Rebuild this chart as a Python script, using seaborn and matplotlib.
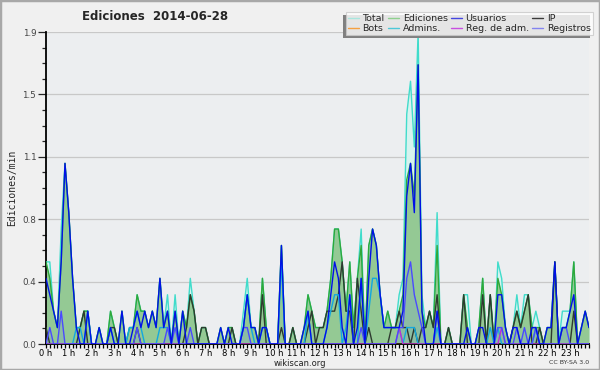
import numpy as np
import pandas as pd
import seaborn as sns
import matplotlib.pyplot as plt
from matplotlib.lines import Line2D
from matplotlib.patches import Rectangle
from matplotlib.transforms import IdentityTransform

# 10-minute samples, edits per minute, one row of six values per hour
ediciones = [
    0.5, 0.4, 0.2, 0.1, 0.5, 1.1,   # 0 h
    0.8, 0.4, 0.1, 0.1, 0.2, 0.2,   # 1 h
    0.0, 0.0, 0.1, 0.0, 0.0, 0.2,   # 2 h
    0.1, 0.0, 0.2, 0.0, 0.1, 0.1,   # 3 h
    0.3, 0.2, 0.2, 0.1, 0.2, 0.1,   # 4 h
    0.4, 0.1, 0.2, 0.0, 0.2, 0.0,   # 5 h
    0.2, 0.1, 0.3, 0.2, 0.0, 0.1,   # 6 h
    0.1, 0.0, 0.0, 0.0, 0.1, 0.0,   # 7 h
    0.1, 0.1, 0.0, 0.0, 0.1, 0.3,   # 8 h
    0.1, 0.1, 0.0, 0.4, 0.1, 0.0,   # 9 h
    0.0, 0.0, 0.6, 0.0, 0.0, 0.1,   # 10 h
    0.0, 0.0, 0.1, 0.3, 0.2, 0.1,   # 11 h
    0.1, 0.1, 0.2, 0.4, 0.7, 0.7,   # 12 h
    0.5, 0.2, 0.5, 0.1, 0.4, 0.6,   # 13 h
    0.0, 0.6, 0.7, 0.6, 0.3, 0.1,   # 14 h
    0.2, 0.1, 0.1, 0.2, 0.3, 1.0,   # 15 h
    1.1, 0.9, 1.7, 0.2, 0.1, 0.2,   # 16 h
    0.1, 0.6, 0.0, 0.0, 0.1, 0.0,   # 17 h
    0.0, 0.0, 0.3, 0.1, 0.0, 0.0,   # 18 h
    0.1, 0.4, 0.0, 0.3, 0.0, 0.4,   # 19 h
    0.3, 0.1, 0.0, 0.1, 0.2, 0.1,   # 20 h
    0.2, 0.3, 0.1, 0.1, 0.1, 0.0,   # 21 h
    0.1, 0.1, 0.5, 0.0, 0.1, 0.1,   # 22 h
    0.2, 0.5, 0.0, 0.1, 0.2, 0.1,   # 23 h
]
total = [
    0.5, 0.5, 0.2, 0.1, 0.7, 1.1,
    0.8, 0.4, 0.1, 0.1, 0.2, 0.2,
    0.0, 0.0, 0.1, 0.0, 0.0, 0.2,
    0.1, 0.0, 0.2, 0.0, 0.1, 0.1,
    0.3, 0.2, 0.2, 0.1, 0.2, 0.1,
    0.4, 0.1, 0.3, 0.0, 0.3, 0.0,
    0.2, 0.1, 0.4, 0.2, 0.0, 0.1,
    0.1, 0.0, 0.0, 0.0, 0.1, 0.0,
    0.1, 0.1, 0.0, 0.0, 0.2, 0.4,
    0.1, 0.1, 0.0, 0.4, 0.1, 0.0,
    0.0, 0.0, 0.6, 0.0, 0.0, 0.1,
    0.0, 0.0, 0.1, 0.3, 0.2, 0.1,
    0.1, 0.1, 0.2, 0.4, 0.7, 0.7,
    0.5, 0.2, 0.5, 0.1, 0.4, 0.7,
    0.0, 0.6, 0.7, 0.6, 0.3, 0.1,
    0.2, 0.1, 0.1, 0.3, 0.4, 1.4,
    1.6, 1.2, 1.9, 0.3, 0.1, 0.2,
    0.1, 0.8, 0.0, 0.0, 0.1, 0.0,
    0.0, 0.0, 0.3, 0.3, 0.0, 0.0,
    0.1, 0.4, 0.0, 0.3, 0.0, 0.5,
    0.4, 0.1, 0.0, 0.1, 0.3, 0.1,
    0.3, 0.3, 0.1, 0.2, 0.1, 0.0,
    0.1, 0.1, 0.5, 0.0, 0.2, 0.2,
    0.2, 0.5, 0.0, 0.1, 0.2, 0.1,
]
usuarios = [
    0.4, 0.3, 0.2, 0.1, 0.5, 1.1,
    0.8, 0.4, 0.1, 0.0, 0.0, 0.2,
    0.0, 0.0, 0.1, 0.0, 0.0, 0.1,
    0.0, 0.0, 0.2, 0.0, 0.0, 0.1,
    0.2, 0.1, 0.2, 0.1, 0.2, 0.1,
    0.4, 0.1, 0.2, 0.0, 0.2, 0.0,
    0.2, 0.0, 0.0, 0.0, 0.0, 0.0,
    0.0, 0.0, 0.0, 0.0, 0.1, 0.0,
    0.1, 0.0, 0.0, 0.0, 0.1, 0.3,
    0.1, 0.1, 0.0, 0.1, 0.1, 0.0,
    0.0, 0.0, 0.6, 0.0, 0.0, 0.0,
    0.0, 0.0, 0.1, 0.2, 0.0, 0.0,
    0.0, 0.0, 0.1, 0.3, 0.5, 0.4,
    0.1, 0.0, 0.3, 0.0, 0.1, 0.4,
    0.0, 0.4, 0.7, 0.6, 0.3, 0.1,
    0.1, 0.1, 0.1, 0.1, 0.2, 0.9,
    1.1, 0.8, 1.7, 0.2, 0.0, 0.0,
    0.0, 0.2, 0.0, 0.0, 0.0, 0.0,
    0.0, 0.0, 0.0, 0.1, 0.0, 0.0,
    0.1, 0.1, 0.0, 0.0, 0.0, 0.3,
    0.3, 0.1, 0.0, 0.1, 0.1, 0.0,
    0.0, 0.0, 0.1, 0.1, 0.0, 0.0,
    0.1, 0.1, 0.5, 0.0, 0.1, 0.1,
    0.2, 0.3, 0.0, 0.1, 0.2, 0.1,
]
ip = [
    0.1, 0.0, 0.0, 0.0, 0.0, 0.0,
    0.0, 0.0, 0.0, 0.1, 0.2, 0.0,
    0.0, 0.0, 0.0, 0.0, 0.0, 0.1,
    0.1, 0.0, 0.0, 0.0, 0.0, 0.0,
    0.1, 0.0, 0.0, 0.0, 0.0, 0.0,
    0.0, 0.0, 0.0, 0.0, 0.0, 0.0,
    0.0, 0.1, 0.3, 0.2, 0.0, 0.1,
    0.1, 0.0, 0.0, 0.0, 0.0, 0.0,
    0.0, 0.1, 0.0, 0.0, 0.0, 0.0,
    0.0, 0.0, 0.0, 0.3, 0.0, 0.0,
    0.0, 0.0, 0.1, 0.0, 0.0, 0.1,
    0.0, 0.0, 0.0, 0.1, 0.2, 0.0,
    0.1, 0.1, 0.2, 0.2, 0.2, 0.3,
    0.5, 0.2, 0.2, 0.0, 0.4, 0.2,
    0.0, 0.1, 0.0, 0.0, 0.0, 0.0,
    0.0, 0.1, 0.1, 0.2, 0.1, 0.1,
    0.0, 0.1, 0.0, 0.1, 0.1, 0.2,
    0.1, 0.3, 0.0, 0.0, 0.1, 0.0,
    0.0, 0.0, 0.3, 0.0, 0.0, 0.0,
    0.0, 0.3, 0.0, 0.3, 0.0, 0.0,
    0.0, 0.0, 0.0, 0.1, 0.2, 0.1,
    0.2, 0.3, 0.0, 0.0, 0.1, 0.0,
    0.0, 0.0, 0.5, 0.0, 0.0, 0.0,
    0.0, 0.2, 0.0, 0.0, 0.0, 0.0,
]
admins = [
    0.0, 0.0, 0.0, 0.0, 0.0, 0.0,
    0.0, 0.0, 0.1, 0.1, 0.0, 0.2,
    0.0, 0.0, 0.0, 0.0, 0.0, 0.1,
    0.0, 0.0, 0.0, 0.0, 0.1, 0.1,
    0.2, 0.1, 0.0, 0.0, 0.0, 0.0,
    0.1, 0.1, 0.1, 0.0, 0.0, 0.0,
    0.0, 0.0, 0.0, 0.0, 0.0, 0.0,
    0.0, 0.0, 0.0, 0.0, 0.0, 0.0,
    0.0, 0.0, 0.0, 0.0, 0.1, 0.3,
    0.1, 0.0, 0.0, 0.1, 0.1, 0.0,
    0.0, 0.0, 0.5, 0.0, 0.0, 0.0,
    0.0, 0.0, 0.0, 0.2, 0.0, 0.0,
    0.0, 0.0, 0.1, 0.2, 0.3, 0.3,
    0.0, 0.1, 0.3, 0.0, 0.0, 0.4,
    0.0, 0.2, 0.4, 0.4, 0.3, 0.1,
    0.1, 0.1, 0.1, 0.1, 0.0, 0.1,
    0.1, 0.1, 0.0, 0.0, 0.0, 0.0,
    0.0, 0.1, 0.0, 0.0, 0.0, 0.0,
    0.0, 0.0, 0.0, 0.0, 0.0, 0.0,
    0.0, 0.0, 0.0, 0.1, 0.0, 0.1,
    0.0, 0.0, 0.0, 0.0, 0.0, 0.0,
    0.0, 0.0, 0.0, 0.1, 0.0, 0.0,
    0.0, 0.0, 0.0, 0.0, 0.0, 0.0,
    0.0, 0.0, 0.0, 0.0, 0.0, 0.0,
]
registros = [
    0.0, 0.1, 0.0, 0.0, 0.2, 0.0,
    0.0, 0.0, 0.0, 0.0, 0.0, 0.0,
    0.0, 0.0, 0.0, 0.0, 0.0, 0.0,
    0.0, 0.0, 0.0, 0.0, 0.0, 0.0,
    0.1, 0.0, 0.0, 0.0, 0.0, 0.0,
    0.0, 0.0, 0.1, 0.0, 0.1, 0.0,
    0.0, 0.0, 0.1, 0.0, 0.0, 0.0,
    0.0, 0.0, 0.0, 0.0, 0.0, 0.0,
    0.0, 0.0, 0.0, 0.0, 0.1, 0.1,
    0.0, 0.0, 0.0, 0.0, 0.0, 0.0,
    0.0, 0.0, 0.0, 0.0, 0.0, 0.0,
    0.0, 0.0, 0.0, 0.0, 0.0, 0.0,
    0.0, 0.0, 0.0, 0.0, 0.0, 0.0,
    0.0, 0.0, 0.0, 0.0, 0.0, 0.1,
    0.0, 0.0, 0.0, 0.0, 0.0, 0.0,
    0.0, 0.0, 0.0, 0.1, 0.1, 0.4,
    0.5, 0.3, 0.2, 0.1, 0.0, 0.0,
    0.0, 0.2, 0.0, 0.0, 0.0, 0.0,
    0.0, 0.0, 0.0, 0.0, 0.0, 0.0,
    0.0, 0.0, 0.0, 0.0, 0.0, 0.1,
    0.1, 0.0, 0.0, 0.0, 0.1, 0.0,
    0.1, 0.0, 0.0, 0.1, 0.0, 0.0,
    0.0, 0.0, 0.0, 0.0, 0.1, 0.1,
    0.0, 0.0, 0.0, 0.0, 0.0, 0.0,
]
reg_adm = [0.0] * 93 + [0.1] + [0.0] * 26 + [0.1] + [0.0] * 23
bots = [0.0] * 144

hour_labels = [f"{h} h" for h in range(24)]
y_major = [0.0, 0.38, 0.76, 1.14, 1.52, 1.9]
y_labels = ["0.0", "0.4", "0.8", "1.1", "1.5", "1.9"]

hours = np.arange(144) / 6.0

series = {
    "Total": total, "Ediciones": ediciones, "Usuarios": usuarios, "IP": ip,
    "Bots": bots, "Admins.": admins, "Reg. de adm.": reg_adm, "Registros": registros,
}
line_colors = {
    "Total": "#40dccb", "Ediciones": "#2fa83a", "Usuarios": "#0010e8", "IP": "#2e3a30",
    "Bots": "#ff9a20", "Admins.": "#12a8e0", "Reg. de adm.": "#c030d0", "Registros": "#4a4aff",
}
legend_colors = {
    "Total": "#a8e6de", "Ediciones": "#8ed08e", "Usuarios": "#4646e0", "IP": "#3a3a3a",
    "Bots": "#f5a040", "Admins.": "#4cc8d8", "Reg. de adm.": "#c850e0", "Registros": "#8484f0",
}

df = pd.DataFrame([
    {"hora": h, "valor": v, "serie": name}
    for name, vals in series.items() for h, v in zip(hours, vals)
])

sns.set_theme(style="white")
plt.rcParams["font.family"] = ["DejaVu Sans"]

fig = plt.figure(figsize=(6, 3.7), dpi=100, facecolor="#f0f0f0")
ax = fig.add_axes([46 / 600, 1 - 344 / 370, 543 / 600, 312 / 370])
ax.set_facecolor("#eceef0")

for y in y_major[1:]:
    ax.axhline(y, color="#c8c8c8", lw=0.9, zorder=0)

# filled areas
ax.fill_between(hours, total, color="#d6f3ef", lw=0, zorder=1)
ax.fill_between(hours, ediciones, color="#94c994", lw=0, zorder=2)
ax.fill_between(hours, registros, color="#7fa8c0", alpha=0.35, lw=0, zorder=2)

draw_order = ["Total", "Ediciones", "Bots", "IP", "Admins.", "Reg. de adm.", "Registros", "Usuarios"]
for z, name in enumerate(draw_order):
    sns.lineplot(data=df[df["serie"] == name], x="hora", y="valor", color=line_colors[name],
                 lw=1.0, ax=ax, legend=False, zorder=3 + z)

ax.set_xlim(0, 143 / 6)
ax.set_ylim(0, 1.9)
ax.set_xticks(range(24))
ax.set_xticklabels(hour_labels)
ax.set_xticks(np.arange(0, 144) / 6.0, minor=True)
ax.set_yticks(y_major)
ax.set_yticklabels(y_labels)
ax.set_yticks(np.arange(0, 21) * 0.095, minor=True)
ax.tick_params(axis="x", which="both", direction="out", length=3, width=0.9, colors="black",
               labelsize=6, pad=0.5)
ax.tick_params(axis="y", which="major", direction="out", length=6, width=0.9, labelsize=6.3,
               pad=1, labelcolor="#444444")
ax.tick_params(axis="y", which="minor", direction="out", length=3, width=0.9)
ax.tick_params(axis="both", which="both", bottom=True, left=True)
for side in ["top", "right"]:
    ax.spines[side].set_visible(False)
for side in ["left", "bottom"]:
    ax.spines[side].set_color("black")
    ax.spines[side].set_linewidth(1.3)
ax.set_xlabel("")
ax.set_ylabel("")

fig.text(155 / 600, 1 - 17 / 370, "Ediciones  2014-06-28", ha="center", va="center",
         fontsize=8.5, fontweight="bold")
fig.text(12 / 600, 1 - 188 / 370, "Ediciones/min", rotation=90, ha="center", va="center",
         fontsize=7, family="DejaVu Sans Mono")
fig.text(300 / 600, 1 - 363 / 370, "wikiscan.org", ha="center", va="center", fontsize=6,
         color="#222222")
fig.text(589 / 600, 1 - 363 / 370, "CC BY-SA 3.0", ha="right", va="center", fontsize=4.5,
         color="#333333")

order = ["Total", "Bots", "Ediciones", "Admins.", "Usuarios", "Reg. de adm.", "IP", "Registros"]
handles = [Line2D([], [], color=legend_colors[n], lw=1.0) for n in order]
leg = fig.legend(handles, order, ncol=4, loc="upper right",
                 bbox_to_anchor=(593 / 600, 1 - 12 / 370), fontsize=6.8, frameon=True,
                 fancybox=False, handlelength=1.1, handletextpad=0.4, columnspacing=0.4,
                 labelspacing=0.05, borderpad=0.25, borderaxespad=0)
leg.get_frame().set_facecolor("#ffffff")
leg.get_frame().set_edgecolor("#c8c8c8")
leg.get_frame().set_linewidth(0.8)
leg.set_zorder(20)

fig.canvas.draw()
bb = leg.get_window_extent()
fig.patches.append(Rectangle((bb.x0 - 3, bb.y0 - 3), bb.width, bb.height, transform=IdentityTransform(),
                             facecolor="#808080", edgecolor="none", zorder=19))
fig.patches.append(Rectangle((0, 0), 1, 1, transform=fig.transFigure, fill=False,
                             edgecolor="#a8a8a8", lw=2.5, zorder=30))

fig.savefig("out.png", dpi=100, facecolor=fig.get_facecolor())
